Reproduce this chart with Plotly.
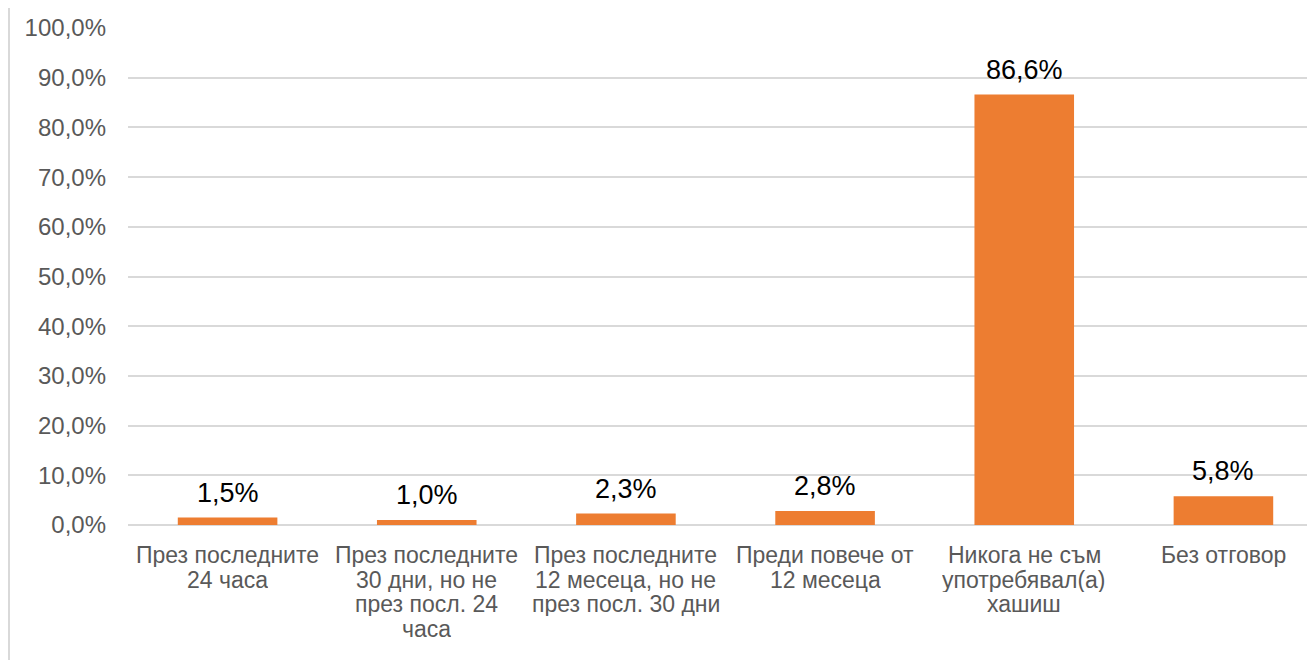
import plotly.graph_objects as go

categories = [
    'През последните 24 часа',
    'През последните 30 дни, но не през посл. 24 часа',
    'През последните 12 месеца, но не през посл. 30 дни',
    'Преди повече от 12 месеца',
    'Никога не съм употребявал(а) хашиш',
    'Без отговор',
]
category_lines = [
    ['През последните', '24 часа'],
    ['През последните', '30 дни, но не', 'през посл. 24', 'часа'],
    ['През последните', '12 месеца, но не', 'през посл. 30 дни'],
    ['Преди повече от', '12 месеца'],
    ['Никога не съм', 'употребявал(а)', 'хашиш'],
    ['Без отговор'],
]
values = [1.5, 1.0, 2.3, 2.8, 86.6, 5.8]
labels = ['1,5%', '1,0%', '2,3%', '2,8%', '86,6%', '5,8%']

# page body has an 8px margin, so the figure is shifted by 8px
W, H = 1315, 660
L, R, T, B = 120, 0, 20, 143
FONT = 'Liberation Sans, Arial'

fig = go.Figure()
fig.add_trace(go.Bar(x=categories, y=values, marker=dict(color='#ed7d31', line=dict(width=0)),
                     hoverinfo='skip'))

for c, v, t in zip(categories, values, labels):
    fig.add_annotation(x=c, y=v, text=t, showarrow=False, yanchor='bottom', yshift=8,
                       font=dict(family=FONT, size=27, color='#000000'))

# category labels, one line each (tight line spacing like the original)
for c, lines in zip(categories, category_lines):
    for i, line in enumerate(lines):
        fig.add_annotation(x=c, y=0, text=line, showarrow=False, yanchor='middle',
                           yshift=-(30 + i * 24.5), height=24, borderpad=0,
                           font=dict(family=FONT, size=23, color='#595959'))

# thin border line on the left edge of the picture
pw = W - L - R
ph = H - T - B
px = (1 - L) / pw
fig.add_shape(type='line', xref='paper', yref='paper', x0=px, x1=px, y0=-B / ph, y1=1 + T / ph,
              line=dict(color='#d9d9d9', width=2))

fig.update_layout(
    width=W, height=H,
    margin=dict(l=L, r=R, t=T, b=B),
    paper_bgcolor='white', plot_bgcolor='white',
    separators=',.',
    bargap=0.5,
    showlegend=False,
    font=dict(family=FONT, size=24, color='#595959'),
    xaxis=dict(showgrid=False, showline=False, ticks='', showticklabels=False),
    yaxis=dict(range=[0, 100], dtick=10, tickformat='.1f', ticksuffix='%', showline=False,
               gridcolor='#d9d9d9', gridwidth=1.5, zeroline=True, zerolinecolor='#d9d9d9', zerolinewidth=1.5,
               ticks='', ticklabelstandoff=21, tickfont=dict(family=FONT, size=24, color='#595959')),
)

fig.write_html('out.html')
